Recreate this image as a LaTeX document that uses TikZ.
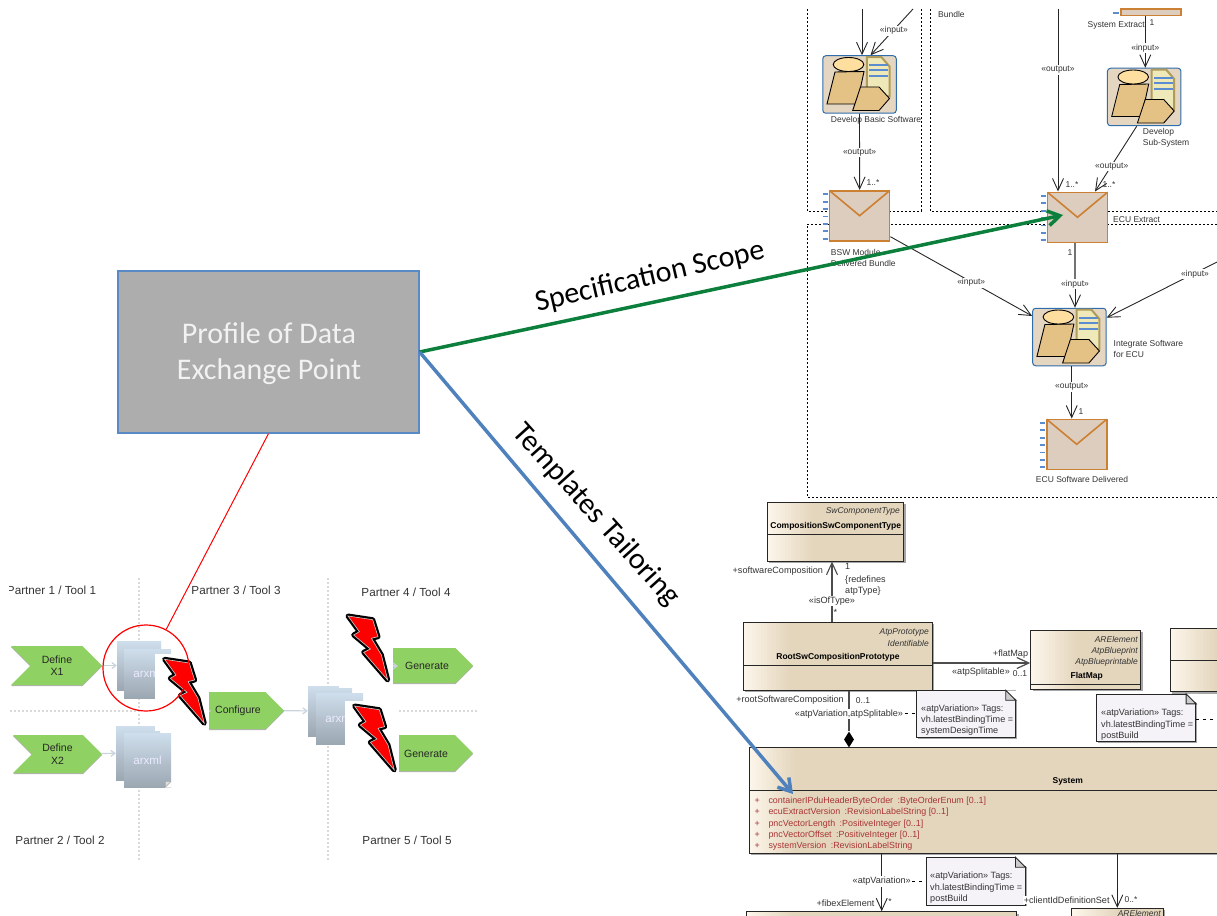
\documentclass[tikz,border=0pt]{standalone}
\usepackage{fontspec}
\setmainfont{Liberation Sans}
\newfontfamily\slidefont{Carlito}
\usetikzlibrary{arrows.meta,shapes.symbols,shapes.geometric,shadows}
\definecolor{classtan}{HTML}{E4D6BD}
\definecolor{classcream}{HTML}{FCF5EA}
\definecolor{taskborder}{HTML}{2F6DAD}
\definecolor{taskfill}{HTML}{E4D6C0}
\definecolor{taskshape}{HTML}{E4C285}
\definecolor{taskhead}{HTML}{FFDFA0}
\definecolor{mailfill}{HTML}{DDCDBE}
\definecolor{mailedge}{HTML}{CC8033}
\definecolor{tickblue}{HTML}{5B8CCF}
\definecolor{docedge}{HTML}{B09C5A}
\definecolor{docfill}{HTML}{EFE9BA}
\definecolor{stepgreen}{HTML}{8FD162}
\definecolor{flowgray}{HTML}{C9D3DE}
\definecolor{attrred}{HTML}{A83434}
\definecolor{notefill}{HTML}{F5F2F8}
\definecolor{scopegreen}{HTML}{0B7F3B}
\definecolor{tailorblue}{HTML}{4F81BD}
\definecolor{profileedge}{HTML}{5A8AC6}
\definecolor{pagetop}{HTML}{CFDEEC}
\begin{document}
\begin{tikzpicture}[x=1pt,y=-1pt,
    small text/.style={font=\fontsize{8.5}{11}\selectfont,text=black!80,inner sep=0pt,align=left,yshift=-.8pt},
    edge label/.style={small text,fill=white,inner sep=1pt},
    plain label/.style={small text},
    class label/.style={small text,font=\fontsize{9.1}{11.3}\selectfont},
    partner label/.style={font=\fontsize{11.7}{14}\selectfont,text=black!80,inner sep=0pt},
    slide label/.style={font=\slidefont\fontsize{30}{36}\selectfont,inner sep=0pt,align=center},
    uml arrow/.style={draw=black!85,line width=.9pt,-{Straight Barb[length=12pt,width=11pt]}},
    uml line/.style={draw=black!85,line width=.9pt},
    fence/.style={line width=.8pt,dash pattern=on 2pt off 2pt},
    tie/.style={line width=.8pt,dash pattern=on 3pt off 4pt},
    grid line/.style={draw=black!15,line width=2pt,dash pattern=on 1.5pt off 2.5pt},
    flow arrow/.style={draw=flowgray,line width=1.2pt,-{Straight Barb[length=4pt,width=6pt]}},
    big arrow/.style={line width=3.5pt,-{Straight Barb[length=12pt,width=15pt]}},
    step box/.style={shape=signal,signal to=east,signal pointer angle=90,fill=stepgreen,inner sep=0pt,
      drop shadow={shadow xshift=0pt,shadow yshift=-1.2pt,fill=black!30,opacity=1}},
    step text/.style={font=\fontsize{10.5}{12.5}\selectfont,align=center,text=black!85,inner sep=0pt},
    page box/.style={rectangle,top color=pagetop,bottom color=pagetop!75!black,inner sep=0pt},
    page text/.style={font=\fontsize{11.6}{13}\selectfont,text=white!92!blue},
    task box/.style={rectangle,rounded corners=3pt,draw=taskborder,line width=1pt,fill=taskfill,
      minimum width=73.5pt,minimum height=57.5pt,inner sep=0pt},
    mail box/.style={rectangle,draw=mailedge,line width=1.6pt,fill=mailfill,
      minimum width=60pt,minimum height=50pt,inner sep=0pt},
    class box/.style={rectangle,draw=black!85,line width=.9pt,fill=classtan,inner sep=0pt,
      drop shadow={shadow xshift=2pt,shadow yshift=-2pt,fill=black!35,opacity=1},
      path picture={
        \foreach \k [evaluate=\k as \mixk using int(100*\k/15)] in {0,...,15}
          \fill[classtan!\mixk!classcream] ([xshift={3*\k}]path picture bounding box.north west)
            rectangle ([xshift={3*\k+3.4}]path picture bounding box.south west);}},
    note box/.style={rectangle,draw=black!85,line width=.9pt,fill=notefill,inner sep=0pt,
      drop shadow={shadow xshift=1.5pt,shadow yshift=-1.5pt,fill=black!35,opacity=1}},
    type text/.style={small text,font=\fontsize{8.5}{11}\itshape\selectfont,anchor=east,align=right},
    name text/.style={small text,font=\fontsize{8.5}{11}\bfseries\selectfont,text=black},
    attr text/.style={small text,font=\fontsize{8.9}{11}\selectfont,text=attrred,anchor=west},
    task icon/.pic={
      \path[draw=docedge,line width=2pt,fill=docfill] (7.3,-27.3) -- (22,-27.3) -- (30,-18) -- (30,12) -- (7.3,12) -- cycle;
      \foreach \yy in {-19,-14,-8} \draw[tickblue,line width=2pt] (9.5,\yy) -- (28.5,\yy);
      \path[draw=black,line width=.9pt,fill=taskshape] (-24.5,-12.5) -- (4.5,-13) -- (-2.5,19.5) -- (-32.5,19.5) -- cycle;
      \path[draw=black,line width=.9pt,fill=taskshape] (-6.8,26) -- (1,2.5) -- (19.5,2.5) -- (30,14) -- (19.5,26) -- cycle;
      \path[draw=black,line width=.9pt,fill=taskhead] (-11,-20) ellipse [x radius=15.3,y radius=7];
    },
    mail flap/.pic={
      \draw[mailedge,line width=1.6pt] (-30,-25) -- (0,0) -- (30,-25);
      \foreach \yy in {0,...,6} \draw[tickblue,line width=1.8pt] (-37,-21.5+7.4*\yy) -- (-32,-21.5+7.4*\yy);
    },
    bolt/.pic={
      \fill[white] (-4,-4) rectangle (50,73);
      \path[draw=black,line width=5pt,line join=round,fill=black] (5.3,1) -- (30,4.7) -- (35.3,21.7) -- (28.7,23.3)
        -- (38.7,40) -- (45,65) -- (21,37.3) -- (27.7,34) -- (11,20) -- (16.7,16.7) -- cycle;
      \path[draw=black!20,line width=.6pt,fill=red] (5.3,1) -- (30,4.7) -- (35.3,21.7) -- (28.7,23.3)
        -- (38.7,40) -- (45,65) -- (21,37.3) -- (27.7,34) -- (11,20) -- (16.7,16.7) -- cycle;
    }]

  \clip (0,0) rectangle (1217,915);

  % Define workflow fences
  \draw[fence] (807,9) -- (807,211) -- (921,211) -- (921,9);
  \draw[fence] (930,9) -- (930,211) -- (1217,211);
  \draw[fence] (1217,224) -- (807,224) -- (807,497) -- (1217,497);
  \node[plain label,anchor=west] (bundle) at (938,14) {Bundle};

  % Define tasks
  \node[task box] (basic) at (859.5,84.5) {};
  \pic at (basic) {task icon};
  \node[task box] (subsys) at (1144.2,97) {};
  \pic at (subsys) {task icon};
  \node[task box] (integ) at (1069.4,337) {};
  \pic at (integ) {task icon};

  % Define work products
  \node[rectangle,draw=mailedge,line width=1.6pt,fill=mailfill,minimum width=60pt,minimum height=6.7pt,inner sep=0pt] (sysex) at (1151,12.3) {};
  \draw[tickblue,line width=1.8pt] (1113,13) -- (1119,13);
  \node[mail box] (bswbun) at (859.6,215.7) {};
  \pic at (bswbun) {mail flap};
  \node[mail box] (ecuex) at (1077.5,217.3) {};
  \pic at (ecuex) {mail flap};
  \node[mail box] (ecusw) at (1076.7,444.3) {};
  \pic at (ecusw) {mail flap};

  % Define workflow labels
  \node[plain label,anchor=west] (basiclab) at (830.7,120) {Develop Basic Software};
  \node[plain label,anchor=east] (sysexlab) at (1145,25) {System Extract};
  \node[plain label,anchor=west] (subsyslab) at (1142.7,137.5) {Develop\\Sub-System};
  \node[plain label,anchor=west] (ecuexlab) at (1113,219) {ECU Extract};
  \node[plain label,anchor=west] (bswbunlab) at (830.7,257.5) {BSW Module\\Delivered Bundle};
  \node[plain label,anchor=west] (integlab) at (1113.5,348.5) {Integrate Software\\for ECU};
  \node[plain label] (ecuswlab) at (1082,479) {ECU Software Delivered};

  % Define workflow connectors
  \coordinate (basicin) at (862,9);
  \coordinate (basicinb) at (913,9);
  \coordinate (ecuin) at (1058,9);
  \coordinate (integin) at (1217,262);
  \draw[uml arrow] (basicin) -- (basicin |- basic.north);
  \draw[uml arrow] (basicinb) -- node[edge label,pos=.45] (lbinput) {«input»} ([xshift=11pt]basic.north);
  \draw[uml arrow] (basic.south) -- node[edge label,pos=.5] (lboutput) {«output»} (bswbun.north);
  \draw[uml arrow] (ecuin) -- node[edge label,pos=.33] (lecuout) {«output»} (ecuin |- ecuex.north);
  \draw[uml arrow] (sysex.south -| 1145.3,0) -- node[edge label,pos=.6] (lsysin) {«input»} (1145.3,0 |- subsys.north);
  \draw[uml arrow] ([xshift=-7.5pt]subsys.south) -- node[edge label,pos=.6] (lsubout) {«output»} ([xshift=17.5pt]ecuex.north);
  \draw[uml arrow] (bswbun.east |- 0,236.7) -- node[edge label,pos=.57] (lbswin) {«input»} (integ.west |- 0,316);
  \draw[uml line,draw=black!55,line width=1.4pt] ([xshift=-2.5pt]ecuex.south) -- (1075,283);
  \draw[uml arrow] (1075,283) -- node[edge label,pos=0] (lecuin) {«input»} ([xshift=5.6pt]integ.north);
  \draw[uml arrow] (integin) -- node[edge label,pos=.2] (lrightin) {«input»} (integ.east |- 0,317.7);
  \draw[uml arrow] ([xshift=2.3pt]integ.south) -- node[edge label,pos=.38] (lintout) {«output»} ([xshift=-5pt]ecusw.north);
  \node[plain label] (mbsw) at (873,182) {1..*};
  \node[plain label] (mecua) at (1072,184) {1..*};
  \node[plain label] (mecub) at (1109,184) {1..*};
  \node[plain label] (msys) at (1152,22) {1};
  \node[plain label] (mecuc) at (1070,252) {1};
  \node[plain label] (msw) at (1081,411) {1};

  % Define classes
  \node[class box,minimum width=136.4pt,minimum height=58.7pt] (comp) at (835.5,531.7) {};
  \node[class box,minimum width=189pt,minimum height=68pt] (root) at (837.8,656.3) {};
  \node[class box,minimum width=110pt,minimum height=59pt] (flat) at (1085.7,659.8) {};
  \node[class box,minimum width=70pt,minimum height=63.4pt] (other) at (1205.3,660) {};
  \node[class box,minimum width=490pt,minimum height=105.6pt] (sys) at (994.3,800.5) {};
  \node[class box,minimum width=270.7pt,minimum height=30pt] (fibex) at (881.4,926.7) {};
  \node[class box,minimum width=91.6pt,minimum height=30pt] (clientid) at (1117.5,923.3) {};
  \foreach \cname/\cy in {comp/534.3,root/665,flat/684.3,other/660,sys/790}
    \draw[line width=.9pt,draw=black!85] (\cname.west |- 0,\cy) -- (\cname.east |- 0,\cy);

  % Define class texts
  \node[type text] (comptype) at (900,511) {SwComponentType};
  \node[name text] (compname) at (835.7,525) {CompositionSwComponentType};
  \node[type text] (roottypea) at (929,631.5) {AtpPrototype};
  \node[type text] (roottypeb) at (929,642.5) {Identifiable};
  \node[name text] (rootname) at (838,656) {RootSwCompositionPrototype};
  \node[type text] (flattypea) at (1138,639) {ARElement};
  \node[type text] (flattypeb) at (1138,650) {AtpBlueprint};
  \node[type text] (flattypec) at (1138,661) {AtpBlueprintable};
  \node[name text] (flatname) at (1086.7,675) {FlatMap};
  \node[name text] (sysname) at (1067.7,781) {System};
  \node[type text] (clienttype) at (1161,912.5) {ARElement};
  \foreach \ay/\atext in {800/containerIPduHeaderByteOrder\enspace:ByteOrderEnum [0..1],
      811/ecuExtractVersion\enspace:RevisionLabelString [0..1],
      823/pncVectorLength\enspace:PositiveInteger [0..1],
      834/pncVectorOffset\enspace:PositiveInteger [0..1],
      845/systemVersion\enspace:RevisionLabelString} {
    \node[attr text] at (768.3,\ay) {\atext};
    \node[attr text] at (754.5,\ay) {+};
  }

  % Define notes
  \node[note box,minimum width=98.6pt,minimum height=46.6pt] (notea) at (966,714) {};
  \node[note box,minimum width=99pt,minimum height=47.4pt] (noteb) at (1146.2,718) {};
  \node[note box,minimum width=99pt,minimum height=47.3pt] (notec) at (975.5,881.3) {};
  \foreach \nname in {notea,noteb,notec} {
    \fill[white] ([xshift=-10.5pt]\nname.north east) -- ([xshift=2pt]\nname.north east) -- ([xshift=2pt,yshift=-10.5pt]\nname.north east) -- cycle;
    \draw[line width=.9pt,draw=black!85,fill=black!20] ([xshift=-10pt]\nname.north east) -- ([yshift=-10pt]\nname.north east) -- ([xshift=-10pt,yshift=-10pt]\nname.north east) -- cycle;
  }
  \node[class label,anchor=west] (noteatext) at (921,719.5) {«atpVariation» Tags:\\vh.latestBindingTime =\\systemDesignTime};
  \node[class label,anchor=west] (notebtext) at (1101,724) {«atpVariation» Tags:\\vh.latestBindingTime =\\postBuild};
  \node[class label,anchor=west] (notectext) at (930,887) {«atpVariation» Tags:\\vh.latestBindingTime =\\postBuild};

  % Define class connectors
  \draw[uml arrow,draw=black!70,line width=1.1pt] (832,0 |- root.north) -- node[class label,fill=white,inner sep=1pt,pos=.36] (lisof) {«isOfType»} (832,0 |- comp.south);
  \draw[uml arrow,draw=black!70,line width=1.2pt] (root.east |- 0,663) -- (flat.west |- 0,663);
  \node[shape=diamond,aspect=.625,fill=black,minimum width=10pt,minimum height=16pt,inner sep=0pt] (whole) at (849,739.5) {};
  \draw[uml line,draw=black!70,line width=1.1pt] (849,0 |- root.south) -- node[class label,fill=white,inner sep=1pt,pos=.55] (lsplit) {«atpVariation,atpSplitable»} (whole);
  \draw[uml arrow] (881.7,0 |- sys.south) -- node[class label,fill=white,inner sep=1pt,pos=.47] (lvariation) {«atpVariation»} (881.7,0 |- fibex.north);
  \draw[uml arrow] (1117.3,0 |- sys.south) -- (1117.3,0 |- clientid.north);
  \draw[tie] (lsplit.east) -- (notea.west |- lsplit.east);
  \draw[tie] (noteb.east |- 0,719) -- (1217,719);
  \draw[tie] (lvariation.east) -- (notec.west |- lvariation.east);
  \node[class label] (rsoft) at (777.8,570) {+softwareComposition};
  \node[class label,anchor=west] (ronecomp) at (845,566) {1};
  \node[class label,anchor=west] (rredef) at (845,584.5) {\{redefines\\atpType\}};
  \node[class label] (rstar) at (835.3,612) {*};
  \node[class label] (rflat) at (1010.5,653) {+flatMap};
  \node[class label,fill=white] (rsplit) at (981,671) {«atpSplitable»};
  \node[plain label] (rzeroa) at (1020,673) {0..1};
  \node[class label] (rroot) at (790,699) {+rootSoftwareComposition};
  \node[plain label] (rzerob) at (863,700) {0..1};
  \node[class label] (rfibex) at (845.5,902) {+fibexElement};
  \node[plain label] (rstarb) at (890,901) {*};
  \node[class label,fill=white,inner sep=.5pt] (rclient) at (1066.7,899) {+clientIdDefinitionSet};
  \node[plain label] (rzeroc) at (1131,899) {0..*};

  % Define partner grid
  \draw[grid line] (139,578) -- (139,860);
  \draw[grid line] (328,578) -- (328,860);
  \draw[grid line] (10,711) -- (136,711);
  \draw[grid line] (399,711) -- (477,711);
  \node[partner label] (ptone) at (51.5,590) {Partner 1 / Tool 1};
  \fill[white] (0,575) rectangle (8.8,605);
  \node[partner label] (pttwo) at (60,840) {Partner 2 / Tool 2};
  \node[partner label] (ptthree) at (236,590) {Partner 3 / Tool 3};
  \node[partner label] (ptfour) at (406,592) {Partner 4 / Tool 4};
  \node[partner label] (ptfive) at (407,840) {Partner 5 / Tool 5};

  % Define exchange files
  \node[page box,minimum width=44pt,minimum height=49pt] (stackab) at (139,665.5) {};
  \node[page box,page text,minimum width=47pt,minimum height=49pt] (stacka) at (147.5,673.5) {arxml};
  \node[page box,minimum width=44pt,minimum height=54pt] (stackbb) at (138,753) {};
  \node[page box,page text,minimum width=47pt,minimum height=54pt] (stackb) at (147.5,760) {arxml};
  \fill[white] (171.5,787.5) -- (165,787.5) -- (171.5,781) -- cycle;
  \draw[black!35,fill=black!12] (165.5,787) -- (165.5,781.5) -- (171,781.5) -- cycle;
  \node[page box,minimum width=44pt,minimum height=50pt] (stackcb) at (330,711) {};
  \node[page box,page text,minimum width=47pt,minimum height=51pt] (stackc) at (339.5,718.5) {arxml};

  % Define steps
  \node[step box,signal from=west,minimum width=91pt,minimum height=39pt] (defa) at (56.5,665.5) {};
  \node[step box,signal from=west,minimum width=89pt,minimum height=38pt] (defb) at (57.5,754) {};
  \node[step box,minimum width=78pt,minimum height=37pt] (config) at (235.75,710.5) {};
  \node[step box,minimum width=88pt,minimum height=35pt] (gena) at (420.25,665.5) {};
  \node[step box,minimum width=88pt,minimum height=36pt] (genb) at (420,753) {};
  \node[step text] (defalab) at (57,665.5) {Define\\X1};
  \node[step text] (defblab) at (57.5,754) {Define\\X2};
  \node[step text] (configlab) at (238,711) {Configure};
  \node[step text] (genalab) at (427,666) {Generate};
  \node[step text] (genblab) at (426,754) {Generate};
  \coordinate (configtip) at (211,711);
  \coordinate (genatip) at (398,666);
  \draw[flow arrow] (defa) -- (stackab);
  \draw[flow arrow] (defb) -- (stackbb);
  \draw[flow arrow] (config) -- (stackcb);
  \draw[flow arrow] (stacka.east |- configtip) -- (configtip);
  \draw[flow arrow] (stackc.east |- genatip) -- (genatip);

  % Define bolts
  \pic at (159.3,658.3) {bolt};
  \pic at (342.7,615) {bolt};
  \pic at (349.3,705) {bolt};

  % Define profile
  \node[rectangle,draw=profileedge,line width=1.3pt,fill=black!32,minimum width=301pt,minimum height=162pt] (profile) at (268.5,352) {};
  \node[slide label,text=white!95!black] (profilelab) at (269,353.5) {Profile of Data\\Exchange Point};
  \node[circle,draw=red,line width=1.2pt,minimum size=86pt,inner sep=0pt] (focus) at (146,668) {};
  \draw[red,line width=1pt] (profile.south) -- (focus);

  % Define scope arrows
  \coordinate (scopeend) at (1063,215);
  \coordinate (tailorend) at (793,794);
  \draw[big arrow,draw=scopegreen] (profile.east) -- (scopeend);
  \draw[big arrow,draw=tailorblue] (profile.east) -- (tailorend);
  \node[slide label,rotate=13] (scopelab) at (650,277) {Specification Scope};
  \node[slide label,rotate=-48] (tailorlab) at (596,515) {Templates Tailoring};

\end{tikzpicture}
\end{document}
